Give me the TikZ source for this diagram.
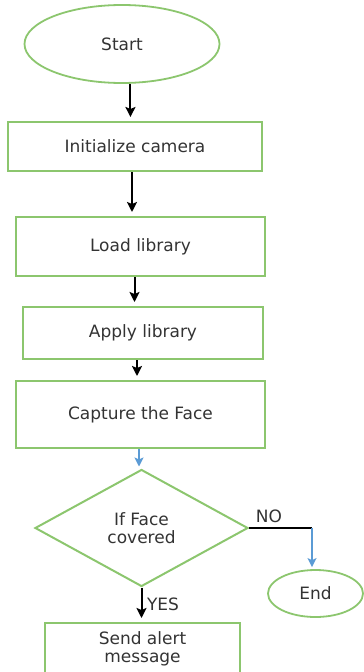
\documentclass[tikz,border=0pt]{standalone}
\usepackage{fontspec}
\setmainfont{DejaVu Sans}
\usetikzlibrary{shapes.geometric,arrows.meta}
\definecolor{boxgreen}{HTML}{8CC66E}
\definecolor{lineblue}{HTML}{5B9BD5}
\begin{document}
\begin{tikzpicture}[x=1pt,y=-1pt, font=\fontsize{17}{18}\selectfont,
  stepbox/.style={rectangle,draw=boxgreen,line width=2pt,inner sep=0pt,align=center,text=black!80},
  term/.style={ellipse,draw=boxgreen,line width=1.8pt,inner sep=0pt,text=black!80},
  flow/.style={line width=2pt,-{Stealth[length=10pt,width=10pt,inset=2pt]},shorten >=4pt},
  blueflow/.style={draw=lineblue,line width=1.6pt,-{Stealth[length=9pt,width=9pt,inset=2pt]},shorten >=2pt}]
   \useasboundingbox (0,0) rectangle (364,672);
   \clip (0,0) rectangle (364,672);
   \node[term, minimum width=195, minimum height=78] (1) at (122, 44) {Start};
   \node[stepbox, minimum width=254, minimum height=49] (2) at (135, 146.5) {Initialize camera};
   \node[stepbox, minimum width=249, minimum height=59] (3) at (140.5, 246.5) {Load library};
   \node[stepbox, minimum width=240, minimum height=52] (4) at (143, 333) {Apply library};
   \node[stepbox, minimum width=249, minimum height=67] (5) at (140.5, 414.5) {Capture the Face};
   \node[diamond, draw=boxgreen, line width=2pt, inner sep=0pt, minimum width=213, minimum height=117, align=center, text=black!80] (6) at (141.5, 528) {If Face\\covered};
   \node[term, minimum width=95, minimum height=47] (7) at (315.5, 593.5) {End};
   \node[stepbox, minimum width=195, minimum height=52] (8) at (142.5, 649) {Send alert\\message};
   \node[text=black!80] (no) at (269, 516) {NO};
   \node[text=black!80] (yes) at (163, 604) {YES};
   \coordinate (n) at (312, 528);

   \draw[flow] (1.-78) -- (1.-78 |- 2.north);
   \draw[flow] ([xshift=-3pt]2.south) -- ([xshift=-3pt]2.south |- 3.north);
   \draw[flow] ([xshift=-6pt]3.south) -- ([xshift=-6pt]3.south |- 4.north);
   \draw[flow] ([xshift=-6pt]4.south) -- ([xshift=-6pt]4.south |- 5.north);
   \draw[blueflow] ([xshift=-1.5pt]5.south) -- ([xshift=-1.5pt]5.south |- 6.north);
   \draw[flow] (6.south) -- (6.south |- 8.north);
   \draw[line width=1.2pt] (6.east) -- (n);
   \draw[blueflow] (n) -- (n |- 7.north);
\end{tikzpicture}
\end{document}
